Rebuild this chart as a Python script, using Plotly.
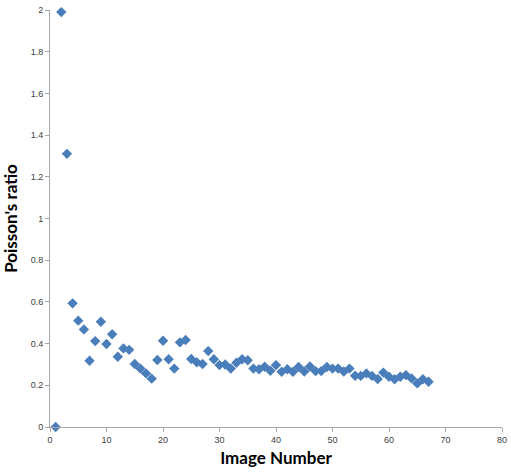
import plotly.graph_objects as go

# Poisson's ratio measured for each image in the sequence
image_number = list(range(1, 68))
poisson_ratio = [
    0.0, 1.99, 1.31, 0.593, 0.51, 0.468, 0.318, 0.412, 0.505, 0.398,
    0.445, 0.337, 0.377, 0.37, 0.302, 0.28, 0.257, 0.232, 0.321, 0.414,
    0.325, 0.28, 0.406, 0.417, 0.326, 0.31, 0.302, 0.364, 0.325, 0.297,
    0.30, 0.28, 0.308, 0.325, 0.32, 0.28, 0.277, 0.289, 0.27, 0.297,
    0.265, 0.277, 0.265, 0.288, 0.266, 0.29, 0.268, 0.268, 0.288, 0.28,
    0.28, 0.266, 0.28, 0.246, 0.245, 0.257, 0.245, 0.23, 0.261, 0.241,
    0.229, 0.241, 0.249, 0.233, 0.209, 0.229, 0.217,
]

x_ticks = [0, 10, 20, 30, 40, 50, 60, 70, 80]
y_ticks = [0, 0.2, 0.4, 0.6, 0.8, 1.0, 1.2, 1.4, 1.6, 1.8, 2.0]
y_tick_text = ["0", "0.2", "0.4", "0.6", "0.8", "1", "1.2", "1.4", "1.6", "1.8", "2"]

fig = go.Figure(
    go.Scatter(
        x=image_number,
        y=poisson_ratio,
        mode="markers",
        marker=dict(symbol="diamond", size=8, color="#4A7EBB", line=dict(width=0)),
        cliponaxis=False,
    )
)

axis_common = dict(
    showgrid=False,
    zeroline=False,
    showline=True,
    linecolor="#A6A6A6",
    linewidth=1,
    ticks="outside",
    ticklen=4,
    tickcolor="#A6A6A6",
    ticklabeloverflow="allow",
    tickfont=dict(family="Liberation Sans, Arial, sans-serif", size=9, color="#404040"),
)

fig.update_layout(
    width=511,
    height=473,
    margin=dict(l=50, r=4, t=10, b=46),
    paper_bgcolor="white",
    plot_bgcolor="white",
    showlegend=False,
    xaxis=dict(
        range=[0, 80],
        tickvals=x_ticks,
        title=dict(
            text="<b>Image Number</b>",
            font=dict(family="Lato, sans-serif", size=17, color="#000000"),
            standoff=8,
        ),
        **axis_common,
    ),
    yaxis=dict(
        range=[0, 2],
        tickvals=y_ticks,
        ticktext=y_tick_text,
        title=dict(
            text="<b>Poisson's ratio</b>",
            font=dict(family="Lato, sans-serif", size=17, color="#000000"),
            standoff=8,
        ),
        **axis_common,
    ),
)

fig.write_html("out.html")
